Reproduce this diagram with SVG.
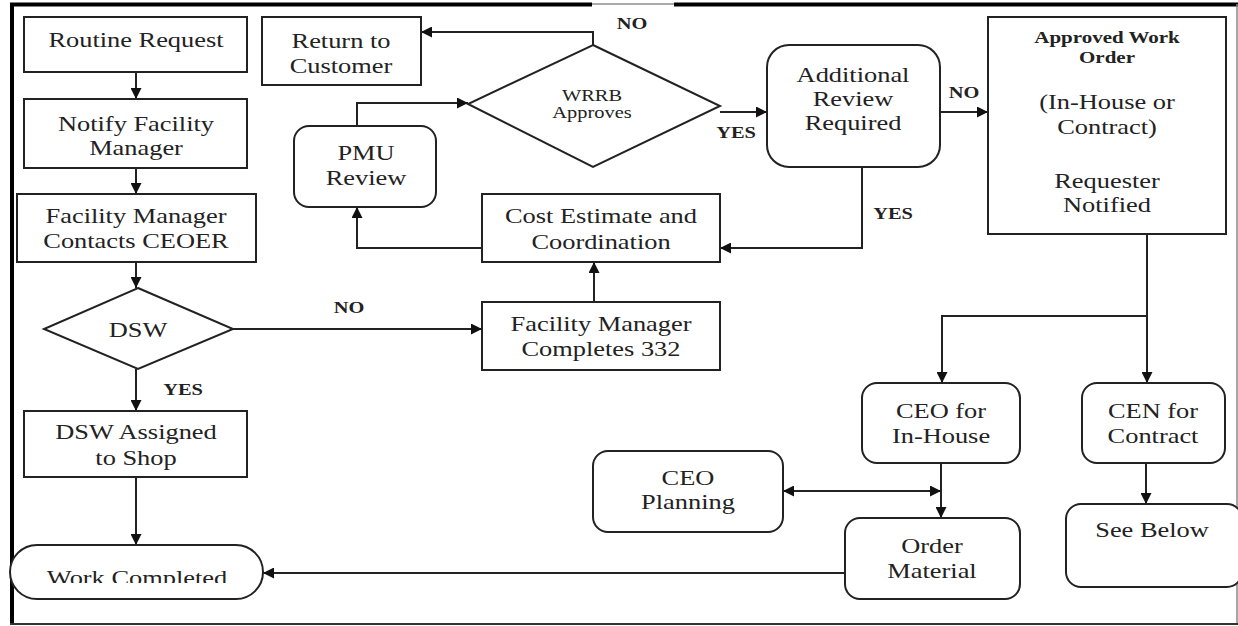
<svg xmlns="http://www.w3.org/2000/svg" width="1238" height="626" viewBox="0 0 1238 626">
<defs>
<marker id="arr" viewBox="0 0 10 10" refX="10" refY="5" markerWidth="11" markerHeight="11" markerUnits="userSpaceOnUse" orient="auto-start-reverse">
<path d="M0,0 L10,5 L0,10 z" fill="#111"/>
</marker>
<clipPath id="wcclip"><rect x="0" y="540" width="300" height="43"/></clipPath>
</defs>
<style>
.box{fill:#fff;stroke:#222;stroke-width:2}
.t{font-family:"Liberation Serif","Times New Roman",serif;font-size:22px;fill:#222;text-anchor:middle}
.s{font-size:17px}
.b{font-family:"Liberation Serif","Times New Roman",serif;font-weight:bold;font-size:17px;fill:#222;text-anchor:middle}
.c{fill:none;stroke:#222;stroke-width:2;marker-end:url(#arr)}
</style>
<rect width="1238" height="626" fill="#fff"/>
<g id="frame">
<line x1="12" y1="3" x2="12" y2="624" stroke="#000" stroke-width="4"/>
<line x1="10" y1="4.5" x2="592" y2="4.5" stroke="#000" stroke-width="4"/>
<line x1="592" y1="4" x2="674" y2="4" stroke="#aaa" stroke-width="2"/>
<line x1="674" y1="4.5" x2="1238" y2="4.5" stroke="#000" stroke-width="4"/>
<line x1="1237" y1="4" x2="1237" y2="624" stroke="#888" stroke-width="1.5"/>
<line x1="10" y1="624" x2="1238" y2="624" stroke="#333" stroke-width="2"/>
</g>
<g id="connectors">
<path class="c" d="M136,72 V99"/>
<path class="c" d="M136,168 V194"/>
<path class="c" d="M136,262 V288"/>
<path class="c" d="M136,369 V411"/>
<path class="c" d="M136,477 V545"/>
<path class="c" d="M233,329 H482"/>
<path class="c" d="M594,302 V262"/>
<path class="c" d="M482,248 H357 V207"/>
<path class="c" d="M357,126 V103 H468"/>
<path class="c" d="M593,45 V32 H421"/>
<path class="c" d="M720,112 H767"/>
<path class="c" d="M940,112 H988"/>
<path class="c" d="M862,167 V248 H720"/>
<path class="c" d="M1147,234 V383"/>
<path class="c" d="M1147,316 H942 V383"/>
<path class="c" d="M941,463 V518"/>
<path class="c" d="M783,491 H941" marker-start="url(#arr)"/>
<path class="c" d="M1146,463 V504"/>
<path class="c" d="M845,573 H263"/>
<text class="b" transform="translate(632,0) scale(1.2,1)" y="29">NO</text>
<text class="b" transform="translate(736,0) scale(1.2,1)" y="138">YES</text>
<text class="b" transform="translate(964,0) scale(1.2,1)" y="98">NO</text>
<text class="b" transform="translate(893,0) scale(1.2,1)" y="219">YES</text>
<text class="b" transform="translate(349,0) scale(1.2,1)" y="313">NO</text>
<text class="b" transform="translate(183,0) scale(1.2,1)" y="395">YES</text>
</g>
<g id="routine-request">
<rect class="box" x="24" y="17" width="223" height="55"/>
<text class="t" transform="translate(136,0) scale(1.2,1)"><tspan x="0" y="47">Routine Request</tspan></text>
</g>
<g id="notify-facility-manager">
<rect class="box" x="24" y="99" width="223" height="69"/>
<text class="t" transform="translate(136,0) scale(1.2,1)"><tspan x="0" y="131">Notify Facility</tspan><tspan x="0" y="155">Manager</tspan></text>
</g>
<g id="fm-contacts-ceoer">
<rect class="box" x="17" y="194" width="239" height="68"/>
<text class="t" transform="translate(136,0) scale(1.2,1)"><tspan x="0" y="223">Facility Manager</tspan><tspan x="0" y="248">Contacts CEOER</tspan></text>
</g>
<g id="dsw">
<polygon class="box" points="138,288 233,329 138,369 44,329"/>
<text class="t" transform="translate(138,0) scale(1.2,1)"><tspan x="0" y="337">DSW</tspan></text>
</g>
<g id="dsw-assigned">
<rect class="box" x="24" y="411" width="223" height="66"/>
<text class="t" transform="translate(136,0) scale(1.2,1)"><tspan x="0" y="439">DSW Assigned</tspan><tspan x="0" y="465">to Shop</tspan></text>
</g>
<g id="work-completed">
<rect class="box" x="10" y="545" width="253" height="54" rx="27" ry="27"/>
<g clip-path="url(#wcclip)">
<text class="t" transform="translate(137,0) scale(1.2,1)"><tspan x="0" y="585">Work Completed</tspan></text>
</g>
</g>
<g id="return-to-customer">
<rect class="box" x="262" y="17" width="159" height="68"/>
<text class="t" transform="translate(341,0) scale(1.2,1)"><tspan x="0" y="48">Return to</tspan><tspan x="0" y="73">Customer</tspan></text>
</g>
<g id="wrrb-approves">
<polygon class="box" points="593,45 720,106 593,167 468,104"/>
<text class="t s" transform="translate(592,0) scale(1.2,1)"><tspan x="0" y="101">WRRB</tspan><tspan x="0" y="118">Approves</tspan></text>
</g>
<g id="pmu-review">
<rect class="box" x="294" y="126" width="142" height="81" rx="15" ry="15"/>
<text class="t" transform="translate(366,0) scale(1.2,1)"><tspan x="0" y="160">PMU</tspan><tspan x="0" y="185">Review</tspan></text>
</g>
<g id="cost-estimate">
<rect class="box" x="482" y="194" width="238" height="68"/>
<text class="t" transform="translate(601,0) scale(1.2,1)"><tspan x="0" y="223">Cost Estimate and</tspan><tspan x="0" y="249">Coordination</tspan></text>
</g>
<g id="fm-completes-332">
<rect class="box" x="482" y="302" width="238" height="68"/>
<text class="t" transform="translate(601,0) scale(1.2,1)"><tspan x="0" y="331">Facility Manager</tspan><tspan x="0" y="356">Completes 332</tspan></text>
</g>
<g id="additional-review">
<rect class="box" x="767" y="45" width="173" height="122" rx="22" ry="22"/>
<text class="t" transform="translate(853,0) scale(1.2,1)"><tspan x="0" y="82">Additional</tspan><tspan x="0" y="106">Review</tspan><tspan x="0" y="130">Required</tspan></text>
</g>
<g id="approved-work-order">
<rect class="box" x="988" y="17" width="238" height="217"/>
<text class="b" style="font-size:17.5px" transform="translate(1107,0) scale(1.2,1)"><tspan x="0" y="43">Approved Work</tspan><tspan x="0" y="63">Order</tspan></text>
<text class="t" transform="translate(1107,0) scale(1.2,1)"><tspan x="0" y="109">(In-House or</tspan><tspan x="0" y="134">Contract)</tspan><tspan x="0" y="188">Requester</tspan><tspan x="0" y="212">Notified</tspan></text>
</g>
<g id="ceo-in-house">
<rect class="box" x="862" y="383" width="158" height="80" rx="15" ry="15"/>
<text class="t" transform="translate(941,0) scale(1.2,1)"><tspan x="0" y="418">CEO for</tspan><tspan x="0" y="443">In-House</tspan></text>
</g>
<g id="cen-contract">
<rect class="box" x="1082" y="383" width="143" height="80" rx="15" ry="15"/>
<text class="t" transform="translate(1153,0) scale(1.2,1)"><tspan x="0" y="418">CEN for</tspan><tspan x="0" y="443">Contract</tspan></text>
</g>
<g id="ceo-planning">
<rect class="box" x="593" y="451" width="190" height="81" rx="15" ry="15"/>
<text class="t" transform="translate(688,0) scale(1.2,1)"><tspan x="0" y="485">CEO</tspan><tspan x="0" y="509">Planning</tspan></text>
</g>
<g id="order-material">
<rect class="box" x="845" y="518" width="175" height="81" rx="15" ry="15"/>
<text class="t" transform="translate(932,0) scale(1.2,1)"><tspan x="0" y="553">Order</tspan><tspan x="0" y="578">Material</tspan></text>
</g>
<g id="see-below">
<rect class="box" x="1066" y="504" width="176" height="83" rx="15" ry="15"/>
<text class="t" transform="translate(1152,0) scale(1.2,1)"><tspan x="0" y="537">See Below</tspan></text>
</g>
</svg>
